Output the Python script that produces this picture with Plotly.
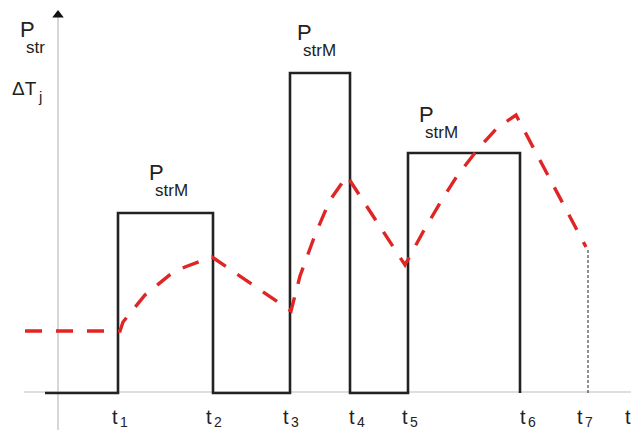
import plotly.graph_objects as go

# Schematic data (time units, level units; origin at the axes crossing)
step_t = [-13, 60, 60, 155, 155, 232, 232, 292, 292, 350, 350, 462, 462]
step_p = [-1, -1, 179, 179, -1, -1, 319, 319, -1, -1, 239, 239, -1]

temp_t = [-33, 62, 65, 87, 114, 127, 154, 233, 242, 257, 272, 289, 347,
          365, 382, 399, 420, 439, 458, 528]
temp_v = [61, 61, 70, 97, 119, 125, 135, 81, 116, 157, 192, 216, 127,
          160, 189, 216, 243, 264, 277, 145]

t7_line_t = [530, 530]
t7_line_v = [142, -3]

tick_names = ["t", "t", "t", "t", "t", "t", "t"]
tick_subs = ["1", "2", "3", "4", "5", "6", "7"]

X0, Y0 = 58, 392  # pixel position of origin
W, H = 631, 430

fig = go.Figure()

# axes
fig.add_trace(go.Scatter(x=[0, 0], y=[Y0 - H, 380], mode="lines",
                         line=dict(color="#bdbdbd", width=1.2), hoverinfo="skip"))
fig.add_trace(go.Scatter(x=[24 - X0, W - X0], y=[0, 0], mode="lines",
                         line=dict(color="#bdbdbd", width=1.2), hoverinfo="skip"))
fig.add_trace(go.Scatter(x=[0], y=[Y0 - 15], mode="markers",
                         marker=dict(symbol="triangle-up", size=10, color="#111"),
                         hoverinfo="skip"))

# power steps
fig.add_trace(go.Scatter(x=step_t, y=step_p, mode="lines",
                         line=dict(color="#222222", width=2.6), hoverinfo="skip"))
# temperature
fig.add_trace(go.Scatter(x=temp_t, y=temp_v, mode="lines",
                         line=dict(color="#e02525", width=3.4, dash="17px,14px"),
                         hoverinfo="skip"))
# t7 marker line
fig.add_trace(go.Scatter(x=t7_line_t, y=t7_line_v, mode="lines",
                         line=dict(color="#222222", width=1, dash="3px,2px"),
                         hoverinfo="skip"))

annotations = []


def label(text, left_px, base_px, fs):
    annotations.append(dict(
        text=text, x=left_px - X0, y=Y0 - (base_px + 0.212 * fs),
        xref="x", yref="y", xanchor="left", yanchor="bottom",
        showarrow=False, borderpad=0, borderwidth=0,
        font=dict(family="Liberation Sans, Arial, sans-serif", size=fs, color="#222")))


label("P", 20, 37, 22)
label("str", 26, 53, 17)
label("ΔT", 12, 95, 19)
label("j", 38, 102, 15)

for (pl, pb) in [(149, 180), (297, 40), (419, 122)]:
    label("P", pl, pb, 22)
    label("strM", pl + 6, pb + 16, 17)

tick_left = [112, 206, 283, 349, 402, 520, 577]
for name, sub, lx in zip(tick_names, tick_subs, tick_left):
    label(name, lx, 424, 20)
    label(sub, lx + 8, 427, 14)
label("t", 625, 424, 20)

fig.update_layout(
    width=W, height=H, margin=dict(l=0, r=0, t=0, b=0),
    paper_bgcolor="white", plot_bgcolor="white", showlegend=False,
    xaxis=dict(range=[-X0, W - X0], visible=False, fixedrange=True),
    yaxis=dict(range=[Y0 - H, Y0], visible=False, fixedrange=True),
    annotations=annotations,
)

fig.write_html("out.html", config={"displayModeBar": False})
